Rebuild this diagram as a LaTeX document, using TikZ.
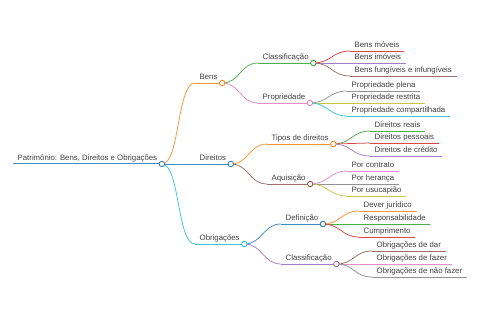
\documentclass[tikz,border=0pt]{standalone}
\usepackage{fontspec}
\setmainfont{Liberation Sans}
\usetikzlibrary{positioning}

\definecolor{cblue}{HTML}{1F77B4}
\definecolor{corange}{HTML}{FF7F0E}
\definecolor{cgreen}{HTML}{2CA02C}
\definecolor{cred}{HTML}{D62728}
\definecolor{cpurple}{HTML}{9467BD}
\definecolor{cbrown}{HTML}{8C564B}
\definecolor{cpink}{HTML}{E377C2}
\definecolor{cgray}{HTML}{7F7F7F}
\definecolor{colive}{HTML}{BCBD22}
\definecolor{ccyan}{HTML}{17BECF}
\definecolor{txt}{HTML}{404040}

\tikzset{
  topic/.style={anchor=south west,inner xsep=4.5pt,inner ysep=3.3pt,text depth=0pt,
    font=\fontsize{7.8}{9}\selectfont,text=txt},
  dot/.style={circle,draw=#1,fill=white,inner sep=0pt,minimum size=5.5pt,line width=0.8pt},
  link/.style={draw=#1!85!white,line width=0.75pt}
}

\begin{document}
\begin{tikzpicture}[x=1pt,y=-1pt]
        \useasboundingbox (0,0) rectangle (480,320);

        % texts
        \node[topic] (root) at (13,164) {Patrimônio: Bens, Direitos e Obrigações};
        \node[topic] (bens) at (195,83) {Bens};
        \node[topic] (classbens) at (258,63) {Classificação};
        \node[topic] (bmov) at (350,51) {Bens móveis};
        \node[topic] (bimov) at (350,63) {Bens imóveis};
        \node[topic] (bfung) at (350,76) {Bens fungíveis e infungíveis};
        \node[topic] (prop) at (258,103) {Propriedade};
        \node[topic] (pplena) at (347,91) {Propriedade plena};
        \node[topic] (prestr) at (347,103) {Propriedade restrita};
        \node[topic] (pcomp) at (347,116) {Propriedade compartilhada};
        \node[topic] (dir) at (195,164) {Direitos};
        \node[topic] (tipos) at (267,144) {Tipos de direitos};
        \node[topic] (dreais) at (370,131) {Direitos reais};
        \node[topic] (dpess) at (370,143) {Direitos pessoais};
        \node[topic] (dcred) at (370,156) {Direitos de crédito};
        \node[topic] (aquis) at (267,184) {Aquisição};
        \node[topic] (pcontr) at (347,171) {Por contrato};
        \node[topic] (pheran) at (347,184) {Por herança};
        \node[topic] (pusuc) at (347,196) {Por usucapião};
        \node[topic] (obrig) at (195,244) {Obrigações};
        \node[topic] (defin) at (281,224) {Definição};
        \node[topic] (dever) at (359,211) {Dever jurídico};
        \node[topic] (resp) at (359,224) {Responsabilidade};
        \node[topic] (cumpr) at (359,237) {Cumprimento};
        \node[topic] (classob) at (281,264) {Classificação};
        \node[topic] (odar) at (372,251) {Obrigações de dar};
        \node[topic] (ofazer) at (372,264) {Obrigações de fazer};
        \node[topic] (onfazer) at (372,277) {Obrigações de não fazer};

        % underlines
        \path[link=cblue,line width=1pt] (root.south west) -- (root.south east);
        \path[link=corange] (bens.south west) -- (bens.south east);
        \path[link=cgreen] (classbens.south west) -- (classbens.south east);
        \path[link=cred] (bmov.south west) -- (bmov.south east);
        \path[link=cpurple] (bimov.south west) -- (bimov.south east);
        \path[link=cbrown] (bfung.south west) -- (bfung.south east);
        \path[link=cpink] (prop.south west) -- (prop.south east);
        \path[link=cgray] (pplena.south west) -- (pplena.south east);
        \path[link=colive] (prestr.south west) -- (prestr.south east);
        \path[link=ccyan] (pcomp.south west) -- (pcomp.south east);
        \path[link=cblue] (dir.south west) -- (dir.south east);
        \path[link=corange] (tipos.south west) -- (tipos.south east);
        \path[link=cgreen] (dreais.south west) -- (dreais.south east);
        \path[link=cred] (dpess.south west) -- (dpess.south east);
        \path[link=cpurple] (dcred.south west) -- (dcred.south east);
        \path[link=cbrown] (aquis.south west) -- (aquis.south east);
        \path[link=cpink] (pcontr.south west) -- (pcontr.south east);
        \path[link=cgray] (pheran.south west) -- (pheran.south east);
        \path[link=colive] (pusuc.south west) -- (pusuc.south east);
        \path[link=ccyan] (obrig.south west) -- (obrig.south east);
        \path[link=cblue] (defin.south west) -- (defin.south east);
        \path[link=corange] (dever.south west) -- (dever.south east);
        \path[link=cgreen] (resp.south west) -- (resp.south east);
        \path[link=cred] (cumpr.south west) -- (cumpr.south east);
        \path[link=cpurple] (classob.south west) -- (classob.south east);
        \path[link=cbrown] (odar.south west) -- (odar.south east);
        \path[link=cpink] (ofazer.south west) -- (ofazer.south east);
        \path[link=cgray] (onfazer.south west) -- (onfazer.south east);

        % branches
        \path[link=corange] (root.south east) .. controls +(18,0) and +(-18,0) .. (bens.south west);
        \path[link=cblue] (root.south east) -- (dir.south west);
        \path[link=ccyan] (root.south east) .. controls +(18,0) and +(-18,0) .. (obrig.south west);
        \path[link=cgreen] (bens.south east) .. controls +(18,0) and +(-18,0) .. (classbens.south west);
        \path[link=cpink] (bens.south east) .. controls +(18,0) and +(-18,0) .. (prop.south west);
        \path[link=cred] (classbens.south east) .. controls +(18,0) and +(-18,0) .. (bmov.south west);
        \path[link=cpurple] (classbens.south east) .. controls +(18,0) and +(-18,0) .. (bimov.south west);
        \path[link=cbrown] (classbens.south east) .. controls +(18,0) and +(-18,0) .. (bfung.south west);
        \path[link=cgray] (prop.south east) .. controls +(18,0) and +(-18,0) .. (pplena.south west);
        \path[link=colive] (prop.south east) .. controls +(18,0) and +(-18,0) .. (prestr.south west);
        \path[link=ccyan] (prop.south east) .. controls +(18,0) and +(-18,0) .. (pcomp.south west);
        \path[link=corange] (dir.south east) .. controls +(18,0) and +(-18,0) .. (tipos.south west);
        \path[link=cbrown] (dir.south east) .. controls +(18,0) and +(-18,0) .. (aquis.south west);
        \path[link=cgreen] (tipos.south east) .. controls +(18,0) and +(-18,0) .. (dreais.south west);
        \path[link=cred] (tipos.south east) .. controls +(18,0) and +(-18,0) .. (dpess.south west);
        \path[link=cpurple] (tipos.south east) .. controls +(18,0) and +(-18,0) .. (dcred.south west);
        \path[link=cpink] (aquis.south east) .. controls +(18,0) and +(-18,0) .. (pcontr.south west);
        \path[link=cgray] (aquis.south east) .. controls +(18,0) and +(-18,0) .. (pheran.south west);
        \path[link=colive] (aquis.south east) .. controls +(18,0) and +(-18,0) .. (pusuc.south west);
        \path[link=cblue] (obrig.south east) .. controls +(18,0) and +(-18,0) .. (defin.south west);
        \path[link=cpurple] (obrig.south east) .. controls +(18,0) and +(-18,0) .. (classob.south west);
        \path[link=corange] (defin.south east) .. controls +(18,0) and +(-18,0) .. (dever.south west);
        \path[link=cgreen] (defin.south east) .. controls +(18,0) and +(-18,0) .. (resp.south west);
        \path[link=cred] (defin.south east) .. controls +(18,0) and +(-18,0) .. (cumpr.south west);
        \path[link=cbrown] (classob.south east) .. controls +(18,0) and +(-18,0) .. (odar.south west);
        \path[link=cpink] (classob.south east) .. controls +(18,0) and +(-18,0) .. (ofazer.south west);
        \path[link=cgray] (classob.south east) .. controls +(18,0) and +(-18,0) .. (onfazer.south west);

        % circles
        \node[dot=cblue] (rootdot) at (root.south east) {};
        \node[dot=corange] (bensdot) at (bens.south east) {};
        \node[dot=cgreen] (classbensdot) at (classbens.south east) {};
        \node[dot=cpink] (propdot) at (prop.south east) {};
        \node[dot=cblue] (dirdot) at (dir.south east) {};
        \node[dot=corange] (tiposdot) at (tipos.south east) {};
        \node[dot=cbrown] (aquisdot) at (aquis.south east) {};
        \node[dot=ccyan] (obrigdot) at (obrig.south east) {};
        \node[dot=cblue] (defindot) at (defin.south east) {};
        \node[dot=cpurple] (classobdot) at (classob.south east) {};
    \end{tikzpicture}
\end{document}
